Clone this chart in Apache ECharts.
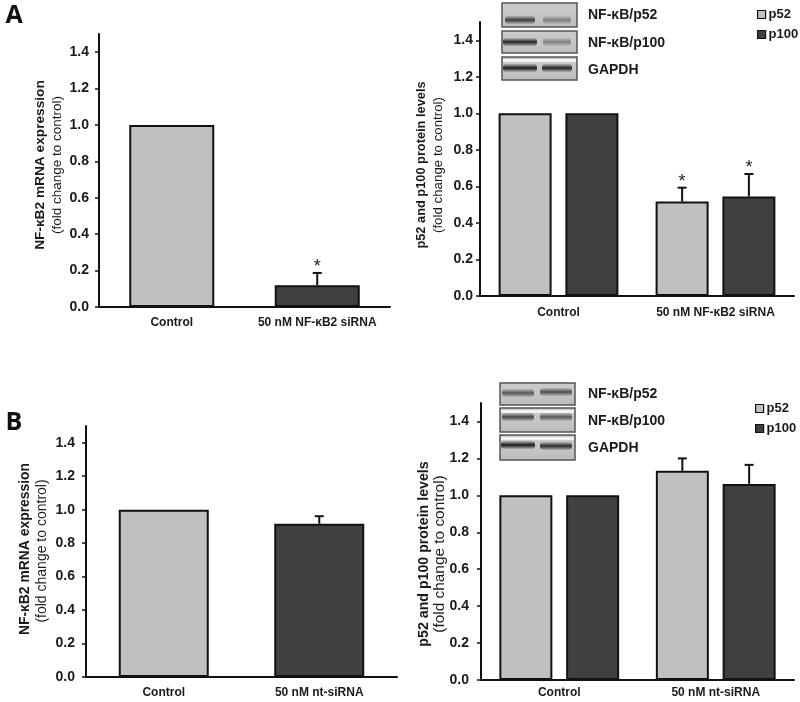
<!DOCTYPE html>
<html>
<head>
<meta charset="utf-8">
<script src="https://cdn.jsdelivr.net/npm/echarts@6/dist/echarts.min.js"></script>
<style>html,body{margin:0;padding:0;background:#fff}#c{width:800px;height:702px}</style>
</head>
<body>
<div id="c"></div>
<script>
// ---------- data ----------
const ticks = [0, 0.2, 0.4, 0.6, 0.8, 1.0, 1.2, 1.4];
const catsA = ['Control', '50 nM NF-κB2 siRNA'];
const catsB = ['Control', '50 nM nt-siRNA'];
const seriesNames = ['p52', 'p100'];
const blotLabels = ['NF-κB/p52', 'NF-κB/p100', 'GAPDH'];
const panelLetters = ['A', 'B'];
const mrnaTitle = 'NF-κB2 mRNA expression';
const proteinTitle = 'p52 and p100 protein levels';
const subTitle = '(fold change to control)';

const mrnaA = [1.0, 0.12];
const mrnaAErr = [0, 0.067];
const mrnaASig = [0, 1];

const p52A = [1.0, 0.517];
const p52AErr = [0, 0.076];
const p52ASig = [0, 1];
const p100A = [1.0, 0.545];
const p100AErr = [0, 0.123];
const p100ASig = [0, 1];

const mrnaB = [1.0, 0.916];
const mrnaBErr = [0, 0.045];
const mrnaBSig = [0, 0];

const p52B = [1.0, 1.133];
const p52BErr = [0, 0.067];
const p52BSig = [0, 0];
const p100B = [1.0, 1.062];
const p100BErr = [0, 0.103];
const p100BSig = [0, 0];

// ---------- styles ----------
const FONT = '"Liberation Sans", Arial, sans-serif';
const LIGHT = '#c0c0c0';
const DARK = '#404040';
const INK = '#111111';

const grids = [
  { left: 99, top: 34, width: 291, height: 273 },
  { left: 480, top: 22, width: 314, height: 274 },
  { left: 86, top: 426, width: 311, height: 251 },
  { left: 481, top: 403, width: 313, height: 277 }
];

function yAxisCfg(gi, margin) {
  return {
    type: 'value', gridIndex: gi, min: 0, max: 1.5,
    axisLine: { show: true, lineStyle: { color: INK, width: 2 } },
    axisTick: { show: true, length: 4, lineStyle: { color: INK, width: 1.5 }, customValues: ticks },
    axisLabel: { customValues: ticks, formatter: v => v.toFixed(1), fontFamily: FONT, fontWeight: 'bold', fontSize: 14, color: '#1a1a1a', margin: margin },
    splitLine: { show: false }
  };
}
function xAxisCfg(gi, cats, margin) {
  return {
    type: 'category', gridIndex: gi, data: cats,
    axisLine: { show: true, lineStyle: { color: INK, width: 2 } },
    axisTick: { show: false },
    axisLabel: { fontFamily: FONT, fontWeight: 'bold', fontSize: 12, color: '#1a1a1a', margin: margin, interval: 0 }
  };
}
function barSeries(name, gi, vals, color, barWidth, barGap) {
  const s = {
    name: name, type: 'bar', xAxisIndex: gi, yAxisIndex: gi,
    data: vals, barWidth: barWidth,
    itemStyle: { color: color, borderColor: INK, borderWidth: 2 },
    silent: true, z: 2
  };
  if (barGap) s.barGap = barGap;
  return s;
}
function barSeriesColored(gi, vals, colors, barWidth) {
  return {
    type: 'bar', xAxisIndex: gi, yAxisIndex: gi, barWidth: barWidth,
    data: vals.map((v, i) => ({ value: v, itemStyle: { color: colors[i] } })),
    itemStyle: { borderColor: INK, borderWidth: 2 },
    silent: true, z: 2
  };
}
function errSeries(gi, vals, errs, sig, offset) {
  return {
    type: 'custom', xAxisIndex: gi, yAxisIndex: gi, silent: true, z: 5,
    encode: { x: 0, y: 1 },
    data: vals.map((v, i) => [i, v, errs[i], sig[i]]),
    renderItem: function (params, api) {
      const i = api.value(0), v = api.value(1), e = api.value(2), s = api.value(3);
      const base = api.coord([i, v]);
      const top = api.coord([i, v + e]);
      const x = base[0] + offset;
      const children = [];
      if (e > 0) {
        children.push({ type: 'line', shape: { x1: x, y1: base[1], x2: x, y2: top[1] }, style: { stroke: INK, lineWidth: 2 } });
        children.push({ type: 'line', shape: { x1: x - 4.5, y1: top[1], x2: x + 4.5, y2: top[1] }, style: { stroke: INK, lineWidth: 2 } });
      }
      if (s) {
        children.push({ type: 'text', x: x, y: top[1] - 6, style: { text: '*', fontFamily: FONT, fontSize: 18, fill: '#222', align: 'center', verticalAlign: 'middle' } });
      }
      return { type: 'group', children: children };
    }
  };
}

// ---------- blots (decorative inset) ----------
function band(cx, cy, w, alpha) {
  return {
    type: 'rect', shape: { x: cx - w / 2, y: cy - 4.5, width: w, height: 9, r: 4 },
    style: {
      fill: { type: 'linear', x: 0, y: 0, x2: 0, y2: 1, colorStops: [
        { offset: 0, color: 'rgba(25,25,25,0)' },
        { offset: 0.5, color: 'rgba(25,25,25,' + alpha + ')' },
        { offset: 1, color: 'rgba(25,25,25,0)' }] }
    }, silent: true
  };
}
function blotBox(x, y, w, h, bands, highlight) {
  const els = [{
    type: 'rect', shape: { x: x, y: y, width: w, height: h },
    style: { fill: { type: 'linear', x: 0, y: 0, x2: 0, y2: 1, colorStops: [
      { offset: 0, color: '#cdcdcd' }, { offset: 1, color: '#bdbdbd' }] }, stroke: '#555', lineWidth: 1.5 },
    silent: true
  }];
  if (highlight) {
    els.push({ type: 'rect', shape: { x: x + 1, y: y + 2, width: w - 2, height: 3 }, style: { fill: 'rgba(255,255,255,0.75)' }, silent: true });
  }
  bands.forEach(b => els.push(band(b[0], b[1], b[2], b[3])));
  return els;
}
function blotLabel(text, x, y) {
  return { type: 'text', x: x, y: y, style: { text: text, fontFamily: FONT, fontWeight: 'bold', fontSize: 14, fill: '#1a1a1a', align: 'left', verticalAlign: 'middle' }, silent: true };
}
function vTitle(text, x, y, size, bold) {
  return { type: 'text', x: x, y: y, rotation: Math.PI / 2,
    style: { text: text, fontFamily: FONT, fontWeight: bold ? 'bold' : 'normal', fontSize: size, fill: '#1a1a1a', align: 'center', verticalAlign: 'middle' }, silent: true };
}

const graphics = [].concat(
  [
    { type: 'text', x: 14, y: 16, style: { text: panelLetters[0], fontFamily: '"Open Sans", ' + FONT, fontWeight: 'bold', fontSize: 25, fill: '#111', align: 'center', verticalAlign: 'middle' } },
    { type: 'text', x: 14, y: 423, style: { text: panelLetters[1], fontFamily: '"Open Sans", ' + FONT, fontWeight: 'bold', fontSize: 25, fill: '#111', align: 'center', verticalAlign: 'middle' } },
    vTitle(mrnaTitle, 40, 165, 13.7, true), vTitle(subTitle, 57, 165, 13.5, false),
    vTitle(proteinTitle, 421, 165, 12.8, true), vTitle(subTitle, 438, 165, 13.3, false),
    vTitle(mrnaTitle, 25, 549, 13.9, true), vTitle(subTitle, 42, 551, 14, false),
    vTitle(proteinTitle, 424, 554, 14.2, true), vTitle(subTitle, 440, 554, 15.4, false)
  ],
  blotBox(502, 3, 75, 24, [[520, 20, 30, 0.8], [557, 20, 28, 0.4]], false),
  blotBox(502, 31, 75, 22, [[520, 42, 34, 0.95], [557, 42, 28, 0.4]], false),
  blotBox(502, 57, 75, 23, [[520, 68, 34, 1], [557, 68, 30, 0.95]], true),
  [blotLabel(blotLabels[0], 588, 15), blotLabel(blotLabels[1], 588, 43), blotLabel(blotLabels[2], 588, 70)],
  blotBox(500, 383, 75, 22, [[518, 393, 32, 0.65], [556, 392, 32, 0.7]], false),
  blotBox(500, 408, 75, 24, [[518, 417, 32, 0.75], [556, 417, 32, 0.65]], true),
  blotBox(500, 435, 75, 25, [[518, 445, 34, 1], [556, 446, 32, 0.9]], true),
  [blotLabel(blotLabels[0], 588, 394), blotLabel(blotLabels[1], 588, 421), blotLabel(blotLabels[2], 588, 448)]
);

function legendCfg(left, top) {
  return {
    left: left, top: top, orient: 'vertical', data: seriesNames, padding: 0,
    itemWidth: 8, itemHeight: 8, itemGap: 7, icon: 'rect', selectedMode: false,
    itemStyle: { borderColor: INK, borderWidth: 1.2 },
    textStyle: { fontFamily: FONT, fontWeight: 'bold', fontSize: 13, color: '#1a1a1a', padding: [0, 0, 0, -2] }
  };
}

const GAP = '26%';
const OFF = (53 + 53 * 0.26) / 2;

const option = {
  animation: false,
  backgroundColor: '#fff',
  grid: grids,
  xAxis: [xAxisCfg(0, catsA, 10), xAxisCfg(1, catsA, 11), xAxisCfg(2, catsB, 10), xAxisCfg(3, catsB, 7)],
  yAxis: [yAxisCfg(0, 10), yAxisCfg(1, 7), yAxisCfg(2, 11), yAxisCfg(3, 12)],
  legend: [legendCfg(757, 8), legendCfg(755, 402)],
  graphic: graphics,
  series: [
    barSeriesColored(0, mrnaA, [LIGHT, DARK], 85),
    errSeries(0, mrnaA, mrnaAErr, mrnaASig, 0),
    barSeries(seriesNames[0], 1, p52A, LIGHT, 53, GAP),
    barSeries(seriesNames[1], 1, p100A, DARK, 53, GAP),
    errSeries(1, p52A, p52AErr, p52ASig, -OFF),
    errSeries(1, p100A, p100AErr, p100ASig, OFF),
    barSeriesColored(2, mrnaB, [LIGHT, DARK], 90),
    errSeries(2, mrnaB, mrnaBErr, mrnaBSig, 0),
    barSeries(seriesNames[0], 3, p52B, LIGHT, 53, GAP),
    barSeries(seriesNames[1], 3, p100B, DARK, 53, GAP),
    errSeries(3, p52B, p52BErr, p52BSig, -OFF),
    errSeries(3, p100B, p100BErr, p100BSig, OFF)
  ]
};
const chart = echarts.init(document.getElementById('c'), null, { renderer: 'canvas' });
chart.setOption(option);
</script>
</body>
</html>
